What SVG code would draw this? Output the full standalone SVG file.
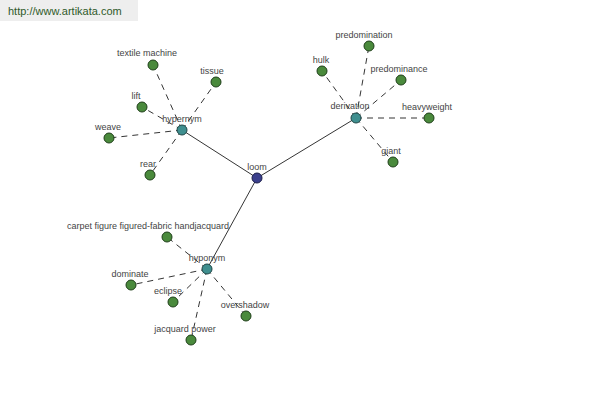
<svg xmlns="http://www.w3.org/2000/svg" width="600" height="400" viewBox="0 0 600 400">
<style>
.n{fill:#4a8a3c;stroke:#1f3f1a;stroke-width:1}
.h{fill:#3f8f8f;stroke:#1d4545;stroke-width:1}
.r{fill:#3b3f8c;stroke:#1c1f4a;stroke-width:1}
.t{font-family:"Liberation Sans",Arial,sans-serif;font-size:9px;fill:#444;text-anchor:middle}
.s{stroke:#000;stroke-width:0.8;fill:none}
.d{stroke:#000;stroke-width:0.8;fill:none;stroke-dasharray:6,5}
</style>
<rect x="0" y="0" width="138" height="21" fill="#eeeeee"/>
<text x="8" y="15" font-family="Liberation Sans,Arial,sans-serif" font-size="11" fill="#2f5a2a">http://www.artikata.com</text>
<g id="connectors">
<line class="s" x1="257" y1="178" x2="182" y2="130"/>
<line class="s" x1="257" y1="178" x2="356" y2="118"/>
<line class="s" x1="257" y1="178" x2="207" y2="269"/>
<line class="d" x1="182" y1="130" x2="153" y2="65"/>
<line class="d" x1="182" y1="130" x2="216" y2="82"/>
<line class="d" x1="182" y1="130" x2="142" y2="107"/>
<line class="d" x1="182" y1="130" x2="109" y2="138"/>
<line class="d" x1="182" y1="130" x2="150" y2="175"/>
<line class="d" x1="356" y1="118" x2="369" y2="46"/>
<line class="d" x1="356" y1="118" x2="322" y2="71"/>
<line class="d" x1="356" y1="118" x2="401" y2="80"/>
<line class="d" x1="356" y1="118" x2="429" y2="118"/>
<line class="d" x1="356" y1="118" x2="393" y2="162"/>
<line class="d" x1="207" y1="269" x2="167" y2="237"/>
<line class="d" x1="207" y1="269" x2="131" y2="285"/>
<line class="d" x1="207" y1="269" x2="173" y2="302"/>
<line class="d" x1="207" y1="269" x2="246" y2="316"/>
<line class="d" x1="207" y1="269" x2="191" y2="340"/>
</g>
<g id="loom"><circle class="r" cx="257" cy="178" r="5"/><text class="t" x="257" y="170">loom</text></g>
<g id="hypernym"><circle class="h" cx="182" cy="130" r="5"/><text class="t" x="182" y="122">hypernym</text></g>
<g id="derivation"><circle class="h" cx="356" cy="118" r="5"/><text class="t" x="350" y="109">derivation</text></g>
<g id="hyponym"><circle class="h" cx="207" cy="269" r="5"/><text class="t" x="207" y="261">hyponym</text></g>
<g id="textile-machine"><circle class="n" cx="153" cy="65" r="5"/><text class="t" x="147" y="56">textile machine</text></g>
<g id="tissue"><circle class="n" cx="216" cy="82" r="5"/><text class="t" x="212" y="74">tissue</text></g>
<g id="lift"><circle class="n" cx="142" cy="107" r="5"/><text class="t" x="136" y="99">lift</text></g>
<g id="weave"><circle class="n" cx="109" cy="138" r="5"/><text class="t" x="108" y="130">weave</text></g>
<g id="rear"><circle class="n" cx="150" cy="175" r="5"/><text class="t" x="148" y="167">rear</text></g>
<g id="predomination"><circle class="n" cx="369" cy="46" r="5"/><text class="t" x="364" y="38">predomination</text></g>
<g id="hulk"><circle class="n" cx="322" cy="71" r="5"/><text class="t" x="321" y="63">hulk</text></g>
<g id="predominance"><circle class="n" cx="401" cy="80" r="5"/><text class="t" x="399" y="72">predominance</text></g>
<g id="heavyweight"><circle class="n" cx="429" cy="118" r="5"/><text class="t" x="427" y="110">heavyweight</text></g>
<g id="giant"><circle class="n" cx="393" cy="162" r="5"/><text class="t" x="391" y="154">giant</text></g>
<g id="carpet"><circle class="n" cx="167" cy="237" r="5"/><text class="t" x="148" y="229">carpet figure figured-fabric handjacquard</text></g>
<g id="dominate"><circle class="n" cx="131" cy="285" r="5"/><text class="t" x="130" y="277">dominate</text></g>
<g id="eclipse"><circle class="n" cx="173" cy="302" r="5"/><text class="t" x="168" y="294">eclipse</text></g>
<g id="overshadow"><circle class="n" cx="246" cy="316" r="5"/><text class="t" x="245" y="308">overshadow</text></g>
<g id="jacquard-power"><circle class="n" cx="191" cy="340" r="5"/><text class="t" x="185" y="332">jacquard power</text></g>
</svg>
